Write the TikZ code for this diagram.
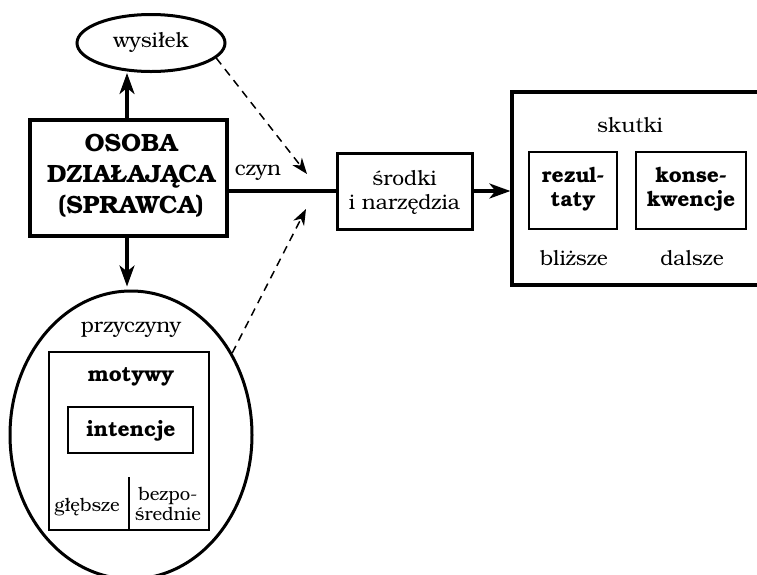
\documentclass[tikz,border=0pt]{standalone}
\usepackage{fontspec}
\setmainfont{texgyrebonum}[Extension=.otf, UprightFont=*-regular, BoldFont=*-bold, ItalicFont=*-italic, BoldItalicFont=*-bolditalic]
\usetikzlibrary{arrows.meta,shapes.geometric}
\tikzset{
  txt/.style={font=\fontsize{21}{24}\selectfont, align=center, inner sep=0pt},
  smalltxt/.style={font=\fontsize{18.5}{20}\selectfont, align=center, inner sep=0pt},
  btxt/.style={font=\fontsize{21}{24}\selectfont\bfseries, align=center, inner sep=0pt},
  bigtxt/.style={font=\fontsize{25}{31}\selectfont\bfseries, align=center, inner sep=0pt},
  thickbox/.style={draw, line width=4pt, inner sep=0pt},
  medbox/.style={draw, line width=3pt, inner sep=0pt},
  thinbox/.style={draw, line width=1.5pt, inner sep=0pt},
  oval/.style={draw, ellipse, line width=3pt, inner sep=0pt},
  mainarrow/.style={line width=3.2pt, -{Stealth[length=21pt, width=15pt, inset=6pt]}},
  dasharrow/.style={line width=1.5pt, dash pattern=on 8pt off 6pt, -{Stealth[length=16pt, width=12pt, inset=5pt]}},
}
\begin{document}
\begin{tikzpicture}[x=1pt,y=-1pt]
\useasboundingbox (0,0) rectangle (757,574);
\clip (0,0) rectangle (757,574);
% main nodes
\node[oval, minimum width=148pt, minimum height=57pt] (wysilek) at (151,43) {};
\node[txt] (wysilektxt) at (151,42) {wysiłek};
\node[thickbox, minimum width=197pt, minimum height=116pt] (osoba) at (128.5,178) {};
\node[bigtxt] (osobatxt) at (131,176) {OSOBA\\DZIAŁAJĄCA\\(SPRAWCA)};
\node[oval, minimum width=242pt, minimum height=288pt] (cause) at (131,435) {};
\node[txt] (przyczyny) at (131,330) {przyczyny};
\node[thinbox, minimum width=160pt, minimum height=178pt] (motywy) at (129,441) {};
\node[btxt] (motywytxt) at (131,377) {motywy};
\node[thinbox, minimum width=125pt, minimum height=46pt] (intencje) at (130.5,430) {};
\node[btxt] (intencjetxt) at (131,431) {intencje};
\coordinate (divtop) at (129,477);
\node[smalltxt] (glebsze) at (87,507) {głębsze};
\node[smalltxt] (bezpo) at (168,504) {bezpo-\\średnie};
\node[medbox, minimum width=135pt, minimum height=76pt] (srodki) at (404.5,191) {};
\node[txt] (srodkitxt) at (404.5,192) {środki\\i narzędzia};
\node[txt] (czyn) at (258,173) {czyn};
\node[draw, line width=3.2pt, inner sep=0pt, minimum width=268pt, minimum height=193pt] (skutki) at (646,188.5) {};
\node[txt] (skutkitxt) at (630,125) {skutki};
\node[thinbox, minimum width=88pt, minimum height=77pt] (rez) at (573,190.5) {};
\node[btxt] (reztxt) at (573,189) {rezul-\\taty};
\node[thinbox, minimum width=110pt, minimum height=77pt] (kons) at (691,190.5) {};
\node[btxt] (konstxt) at (691,189) {konse-\\kwencje};
\node[txt] (blizsze) at (574,258) {bliższe};
\node[txt] (dalsze) at (692,258) {dalsze};
\coordinate (tipA) at (307,174);
\coordinate (tipB) at (306,209);
% connectors
\draw[line width=1.5pt] (divtop) -- (motywy.south);
\draw[mainarrow] (osoba.north -| 127,0) -- (wysilek.south -| 127,0);
\draw[mainarrow, shorten >=3pt] (osoba.south -| 127,0) -- (cause.north -| 127,0);
\draw[line width=3.2pt] (osoba.east |- srodki.west) -- (srodki.west);
\draw[mainarrow] (srodki.east) -- (srodki.east -| skutki.west);
\draw[dasharrow] (wysilek.-13) -- (tipA);
\draw[dasharrow] (cause.39) -- (tipB);
\end{tikzpicture}
\end{document}
